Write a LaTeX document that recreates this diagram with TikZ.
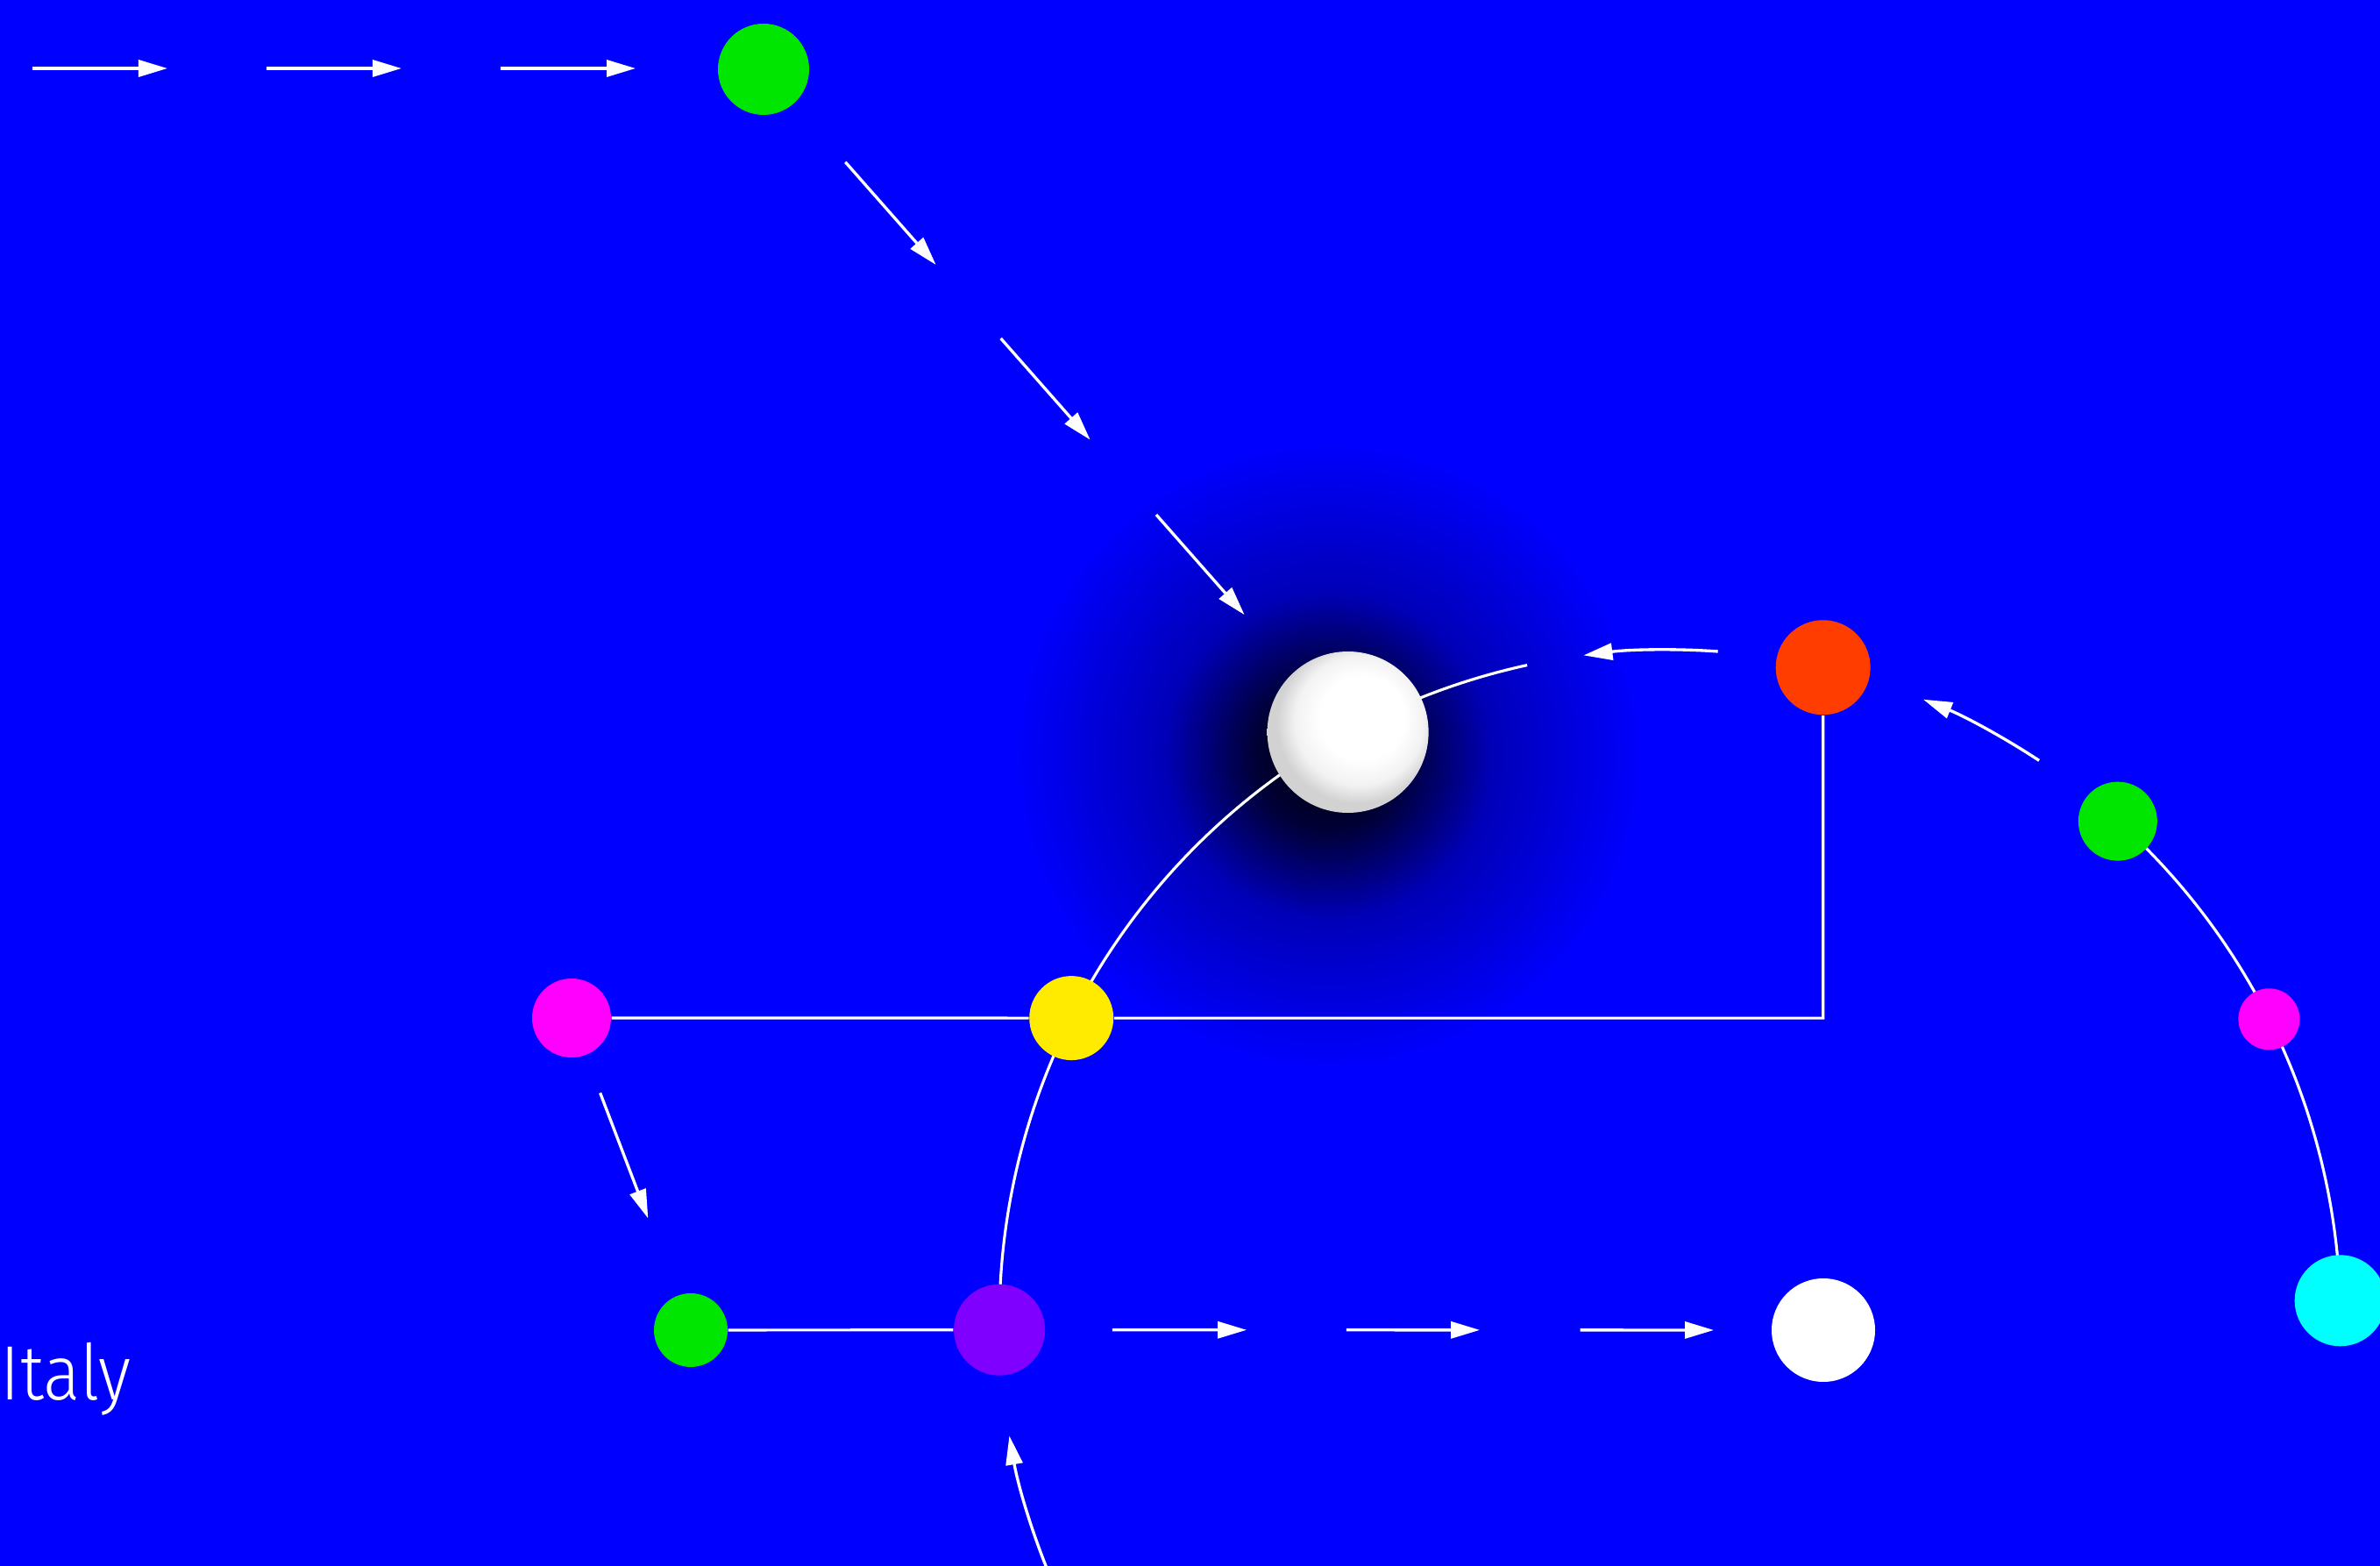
\documentclass[tikz,border=0pt]{standalone}
\usepackage{fontspec}
\newfontfamily\thinfont{Fira Sans Light}
\usepackage{tikz}
\usetikzlibrary{positioning}
\usetikzlibrary{arrows.meta}
\usetikzlibrary{calc}

\pgfdeclarelayer{backdrop}
\pgfdeclarelayer{wires}
\pgfsetlayers{backdrop,wires,main}

\definecolor{bgblue}{RGB}{0,0,255}
\definecolor{dotgreen}{RGB}{0,230,0}
\definecolor{dotred}{RGB}{255,61,0}
\definecolor{dotyellow}{RGB}{255,235,0}
\definecolor{dotviolet}{RGB}{128,0,255}
\definecolor{dotmagenta}{RGB}{255,0,255}
\definecolor{dotcyan}{RGB}{0,255,255}

\pgfdeclareradialshading{pearl}{\pgfpoint{6bp}{6bp}}{color(0bp)=(white); color(13bp)=(white); color(20bp)=(white!90!gray); color(25bp)=(white!65!gray); color(50bp)=(white!65!gray)}
\pgfdeclareradialshading{halo}{\pgfpointorigin}{color(0bp)=(black); color(6bp)=(bgblue!22!black); color(13bp)=(bgblue!72!black); color(25bp)=(bgblue); color(50bp)=(bgblue)}

\begin{document}
\begin{tikzpicture}[
  dot/.style={circle, inner sep=0pt, minimum size=#1},
  wire/.style={white, line width=0.9pt},
  arr/.style={white, line width=0.95pt, -{Triangle[length=3.3mm, width=1.9mm]}}
]
\def\R{7.65}
\useasboundingbox (0,0) rectangle (27.15,17.86);
\clip (0,0) rectangle (27.15,17.86);
\coordinate (ctr) at (19.05,2.8);

\begin{pgfonlayer}{backdrop}
\fill[bgblue] (0,0) rectangle (27.15,17.86);
\shade[shading=halo] (15.15,9.25) circle (3.6);
\end{pgfonlayer}

% dots on the orbit
\node[dot=1.04cm, fill=dotcyan]    (cyan) at ($(ctr)+(1.7:\R)$) {};
\node[dot=0.70cm, fill=dotmagenta] (magR) at ($(ctr)+(26.7:\R)$) {};
\node[dot=0.90cm, fill=dotgreen]   (gR)   at ($(ctr)+(48.1:\R)$) {};
\node[dot=1.08cm, fill=dotred]     (red)  at ($(ctr)+(76.8:\R)$) {};
\node[dot=1.84cm, shade, shading=pearl] (sun) at ($(ctr)+(118.7:\R)$) {};
\node[dot=0.96cm, fill=dotyellow]  (yel)  at ($(ctr)+(153.2:\R)$) {};
\node[dot=1.04cm, fill=dotviolet]  (pur)  at ($(ctr)+(180.8:\R)$) {};

% other dots
\node[dot=1.04cm, fill=dotgreen]   (gtop) at (8.71,17.07) {};
\node[dot=0.90cm, fill=dotmagenta] (magL) at (6.52,6.25) {};
\node[dot=0.84cm, fill=dotgreen]   (gbot) at (7.88,2.69) {};
\node[dot=1.18cm, fill=white]      (wbot) at (20.80,2.69) {};

\node[font=\thinfont\fontsize{25}{28}\selectfont, white, anchor=base west, inner sep=0pt] (place) at (0,1.89) {\scalebox{0.9}[1]{Italy}};

\begin{pgfonlayer}{wires}
\draw[wire] (cyan.center) arc[start angle=1.7, end angle=26.7, radius=\R];
\draw[wire] (magR.center) arc[start angle=26.7, end angle=48.1, radius=\R];
\coordinate (arcstart) at ($(ctr)+(102.3:\R)$);
\draw[wire] (arcstart) arc[start angle=102.3, end angle=180.8, radius=\R];
\draw[wire] (magL) -- (yel) -- (yel -| red) -- (red);
\draw[wire] (gbot) -- (pur);
\end{pgfonlayer}

% incoming row
\foreach \x in {0.37,3.04,5.71}
  \draw[arr] (\x,17.08) -- ++(1.54,0);
% towards the sun
\foreach \s/\e in {0.14/0.295,0.406/0.559,0.672/0.823}
  \draw[arr] ($(gtop)!\s!(sun)$) -- ($(gtop)!\e!(sun)$);
% outgoing row
\foreach \s/\e in {0.137/0.30,0.421/0.583,0.705/0.867}
  \draw[arr] ($(pur)!\s!(wbot)$) -- ($(pur)!\e!(wbot)$);
\draw[arr] ($(magL)!0.24!(gbot)$) -- ($(magL)!0.642!(gbot)$);

% along the orbit
\draw[arr] ($(ctr)+(56.6:\R)$) arc[start angle=56.6, end angle=67.8, radius=\R];
\draw[arr] ($(ctr)+(85.9:\R)$) arc[start angle=85.9, end angle=97.4, radius=\R];
\draw[arr] ($(ctr)+(203:\R)$) arc[start angle=203, end angle=189.9, radius=\R];

\end{tikzpicture}
\end{document}
